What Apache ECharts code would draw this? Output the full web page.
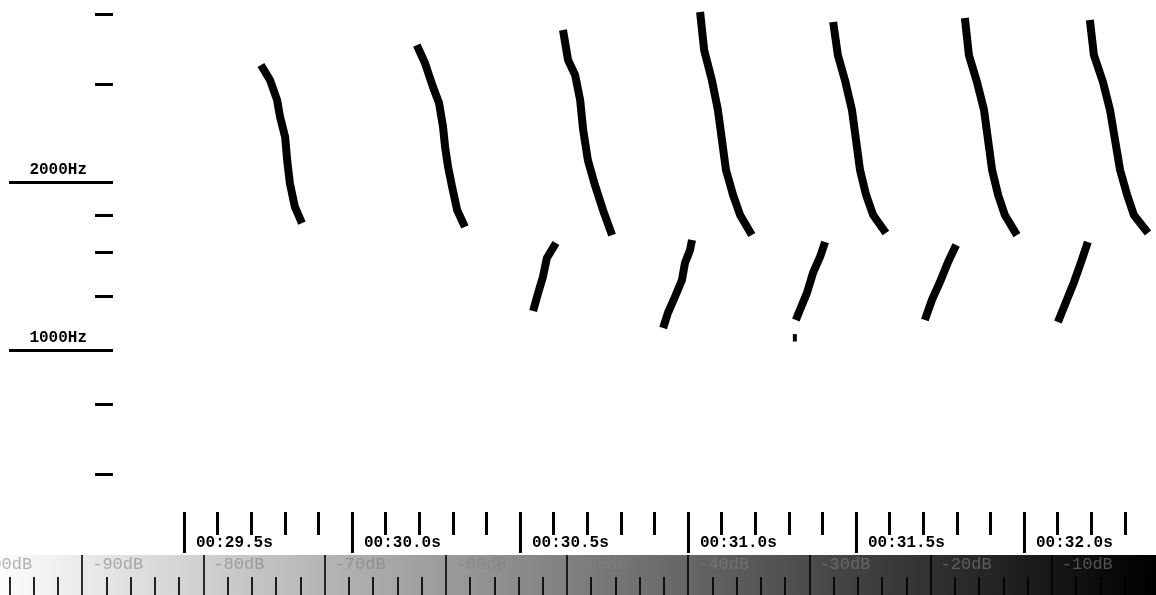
<!DOCTYPE html>
<html><head><meta charset="utf-8">
<script src="https://cdn.jsdelivr.net/npm/echarts@6/dist/echarts.min.js"></script>
<style>html,body{margin:0;padding:0;background:#fff;}#c{width:1156px;height:595px;}</style>
</head><body><div id="c"></div>
<script>
// time in seconds, frequency in Hz
const DOWN_1 = [[29.729,3248],[29.756,3053],[29.777,2811],[29.786,2621],[29.801,2413],[29.807,2194],[29.815,1996],[29.830,1808],[29.851,1692]];
const DOWN_2 = [[30.193,3527],[30.217,3275],[30.241,2966],[30.259,2777],[30.271,2515],[30.277,2316],[30.286,2132],[30.298,1963],[30.313,1785],[30.336,1665]];
const DOWN_3 = [[30.628,3752],[30.643,3316],[30.664,3117],[30.679,2811],[30.688,2484],[30.702,2194],[30.723,1979],[30.747,1785],[30.774,1610]];
const DOWN_4 = [[31.036,4042],[31.048,3455],[31.071,3053],[31.089,2698],[31.101,2383],[31.113,2106],[31.134,1900],[31.155,1749],[31.190,1610]];
const DOWN_5 = [[31.432,3878],[31.446,3384],[31.467,3053],[31.488,2698],[31.500,2383],[31.512,2106],[31.530,1900],[31.551,1749],[31.589,1624]];
const DOWN_6 = [[31.824,3943],[31.836,3384],[31.860,3028],[31.881,2698],[31.893,2383],[31.905,2106],[31.923,1900],[31.943,1749],[31.979,1610]];
const DOWN_7 = [[32.196,3910],[32.208,3384],[32.235,3028],[32.256,2698],[32.271,2383],[32.286,2106],[32.307,1900],[32.327,1749],[32.369,1624]];
const UP_1 = [[30.539,1177],[30.554,1268],[30.568,1354],[30.580,1465],[30.607,1558]];
const UP_2 = [[30.926,1097],[30.940,1167],[30.961,1247],[30.982,1338],[30.991,1435],[31.006,1514],[31.012,1578]];
const UP_3 = [[31.321,1134],[31.333,1182],[31.354,1268],[31.372,1377],[31.393,1471],[31.408,1565]];
const UP_3_DOT = [[31.318,1070],[31.318,1038]];
const UP_4 = [[31.705,1134],[31.726,1232],[31.750,1327],[31.774,1441],[31.798,1545]];
const UP_5 = [[32.101,1125],[32.125,1222],[32.149,1327],[32.170,1441],[32.190,1565]];

const HZ_MAJOR_TICKS = [1000, 2000];
const HZ_MINOR_TICKS = [600, 800, 1250, 1500, 1750, 3000, 4000];
const HZ_MIN = 513.6, HZ_MAX = 4247;
const TIME_MIN = 29.5, TIME_MAX = 32.5, TIME_STEP = 0.5;
const DB_MIN = -100, DB_MAX = 0, DB_STEP = 10;

const chart = echarts.init(document.getElementById('c'), null, {renderer: 'canvas'});
const lg = v => Math.log2(v);
const MONO = '"Liberation Mono", "DejaVu Sans Mono", monospace';

const calls = [DOWN_1, DOWN_2, DOWN_3, DOWN_4, DOWN_5, DOWN_6, DOWN_7, UP_1, UP_2, UP_3, UP_4, UP_5];
const series = calls.map(d => ({
  type: 'line', xAxisIndex: 0, yAxisIndex: 0,
  data: d.map(p => [p[0], lg(p[1])]),
  symbol: 'none', silent: true, animation: false,
  lineStyle: {color: '#000', width: 8, cap: 'butt', join: 'round'}
}));
series.push({
  type: 'line', xAxisIndex: 0, yAxisIndex: 0,
  data: UP_3_DOT.map(p => [p[0], lg(p[1])]),
  symbol: 'none', silent: true, animation: false,
  lineStyle: {color: '#000', width: 4, cap: 'butt'}
});

chart.setOption({
  animation: false,
  backgroundColor: '#fff',
  grid: [
    {left: 184, top: 0, width: 1008, height: 512, outerBoundsMode: 'none', containLabel: false},
    {left: -39, top: 555, width: 1212, height: 40, outerBoundsMode: 'none', containLabel: false,
     show: true, borderWidth: 0,
     backgroundColor: {type: 'linear', x: 39/1212, y: 0, x2: 1195/1212, y2: 0,
       colorStops: [{offset: 0, color: '#fcfcfc'}, {offset: 1, color: '#000000'}]}}
  ],
  xAxis: [
    {type: 'value', gridIndex: 0, min: TIME_MIN, max: TIME_MAX, interval: TIME_STEP, position: 'bottom',
     axisLine: {show: false}, splitLine: {show: false},
     axisTick: {show: true, length: 41, lineStyle: {color: '#000', width: 3}},
     minorTick: {show: true, splitNumber: 5, length: 23, lineStyle: {color: '#000', width: 3}},
     axisLabel: {show: true, showMaxLabel: false, margin: 24, align: 'left', verticalAlign: 'top', lineHeight: 14,
       padding: [0, 0, 0, 12], fontFamily: MONO, fontWeight: 'bold', fontSize: 16, color: '#000',
       formatter: v => '00:' + v.toFixed(1).padStart(4, '0') + 's'}},
    {type: 'value', gridIndex: 1, min: DB_MIN, max: DB_MAX, interval: DB_STEP, position: 'bottom',
     axisLine: {show: false}, splitLine: {show: false},
     axisTick: {show: true, inside: true, length: 40, lineStyle: {color: 'rgba(0,0,0,0.8)', width: 2}},
     minorTick: {show: true, splitNumber: 5, length: 18, lineStyle: {color: 'rgba(0,0,0,0.85)', width: 2}},
     axisLabel: {show: true, showMaxLabel: false, inside: true, margin: 31, align: 'left', verticalAlign: 'middle',
       padding: [0, 0, 0, 10], fontFamily: MONO, fontSize: 17, color: 'rgba(128,128,128,0.6)',
       formatter: v => v + 'dB'}}
  ],
  yAxis: [
    {type: 'value', gridIndex: 0, min: lg(HZ_MIN), max: lg(HZ_MAX), position: 'left', offset: 71,
     axisLine: {show: false}, splitLine: {show: false},
     axisTick: {show: true, customValues: HZ_MAJOR_TICKS.map(lg), length: 104, lineStyle: {color: '#000', width: 3}},
     axisLabel: {show: true, customValues: HZ_MAJOR_TICKS.map(lg), margin: 26, align: 'right', verticalAlign: 'bottom',
       lineHeight: 26, fontFamily: MONO, fontWeight: 'bold', fontSize: 16, color: '#000',
       formatter: v => Math.round(Math.pow(2, v)) + 'Hz'}},
    {type: 'value', gridIndex: 0, min: lg(HZ_MIN), max: lg(HZ_MAX), position: 'left', offset: 71,
     axisLine: {show: false}, splitLine: {show: false},
     axisTick: {show: true, customValues: HZ_MINOR_TICKS.map(lg), length: 18, lineStyle: {color: '#000', width: 3}},
     axisLabel: {show: false}},
    {type: 'value', gridIndex: 1, min: 0, max: 1, show: false,
     axisLine: {show: false}, splitLine: {show: false}, axisTick: {show: false}, axisLabel: {show: false}}
  ],
  series: series
});
</script>
</body></html>
